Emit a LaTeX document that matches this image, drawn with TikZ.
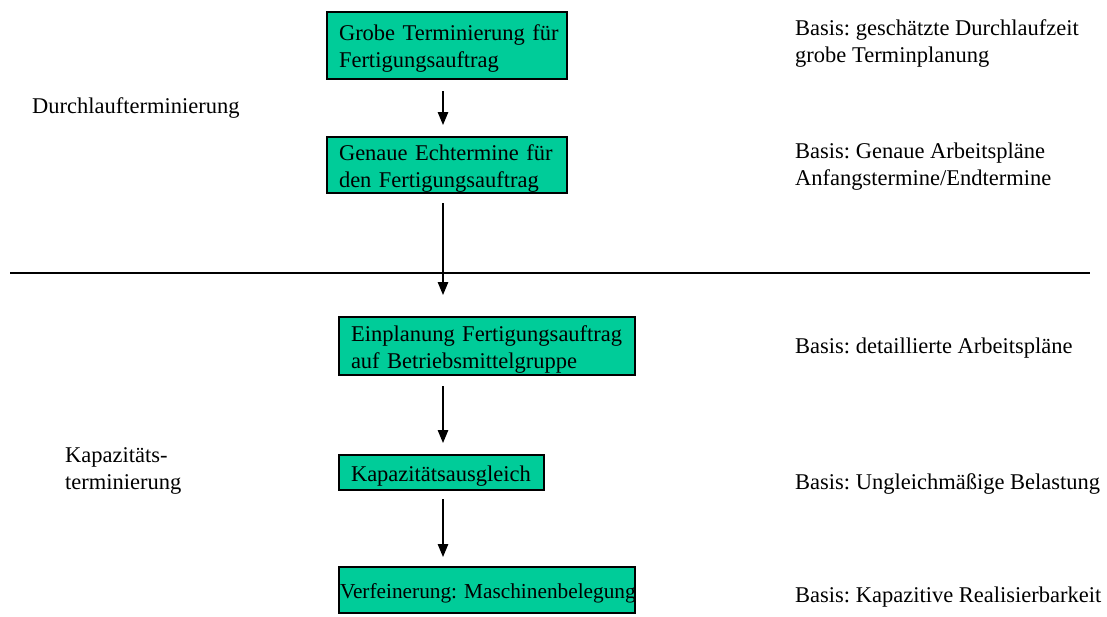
\documentclass[tikz,border=0pt]{standalone}
\usepackage{fontspec}
\setmainfont{Liberation Serif}
\usetikzlibrary{arrows.meta}
\definecolor{boxgreen}{RGB}{0,204,153}
\begin{document}
\frenchspacing
\begin{tikzpicture}[x=1pt,y=-1pt,
  txt/.style={font=\fontsize{22.5}{27}\selectfont},
  box/.style={txt, draw=black, line width=1.5pt, fill=boxgreen, anchor=north west,
    align=left, inner ysep=0pt, outer sep=0pt},
  note/.style={txt, anchor=west, align=left, inner sep=0pt},
  arr/.style={line width=1.2pt, -{Triangle[length=13pt,width=10.5pt]}}]
\useasboundingbox (0,0) rectangle (1107,616);
\coordinate (ax) at (443,0);
% boxes
\node[box, text width=216pt, inner xsep=12pt, minimum height=67pt] (b1) at (327,12)
  {\rule{0pt}{22pt}\mbox{Grobe Terminierung für}\\Fertigungsauftrag};
\node[box, text width=216pt, inner xsep=12pt, minimum height=56pt] (b2) at (327,137)
  {\rule{0pt}{22pt}\mbox{Genaue Echtermine für}\\den Fertigungsauftrag};
\node[box, text width=272pt, inner xsep=12pt, minimum height=58pt] (b3) at (339,317)
  {\rule{0pt}{22pt}\mbox{Einplanung Fertigungsauftrag}\\auf Betriebsmittelgruppe};
\node[box, text width=181pt, inner xsep=12pt, minimum height=35pt] (b4) at (339,455)
  {\rule{0pt}{22pt}Kapazitätsausgleich};
\node[box, text width=294pt, inner xsep=1pt, minimum height=46pt,
  font=\fontsize{21.3}{26}\selectfont] (b5) at (339,567)
  {\rule{0pt}{22pt}\mbox{Verfeinerung: Maschinenbelegung}};
% divider
\coordinate (l1) at (10,273);
\coordinate (l2) at (1090,273);
\draw[line width=2pt] (l1) -- (l2);
% arrows
\draw[arr, shorten <=12pt, shorten >=12pt] (b1.south -| ax) -- (b2.north -| ax);
\draw[arr, shorten <=10pt, shorten >=22pt] (b2.south -| ax) -- (b3.north -| ax);
\draw[arr, shorten <=11pt, shorten >=12pt] (b3.south -| ax) -- (b4.north -| ax);
\draw[arr, shorten <=9pt, shorten >=10pt] (b4.south -| ax) -- (b5.north -| ax);
% left labels
\node[note] (d) at (32,108) {Durchlaufterminierung};
\node[note] (k) at (65,471) {Kapazitäts-\\terminierung};
% right notes
\node[note] (n1) at (795,44) {Basis: geschätzte Durchlaufzeit\\grobe Terminplanung};
\node[note] (n2) at (795,167) {Basis: Genaue Arbeitspläne\\Anfangstermine/Endtermine};
\node[note] (n3) at (795,348) {Basis: detaillierte Arbeitspläne};
\node[note] (n4) at (795,484) {Basis: Ungleichmäßige Belastung};
\node[note] (n5) at (795,597) {Basis: Kapazitive Realisierbarkeit};
\end{tikzpicture}
\end{document}
